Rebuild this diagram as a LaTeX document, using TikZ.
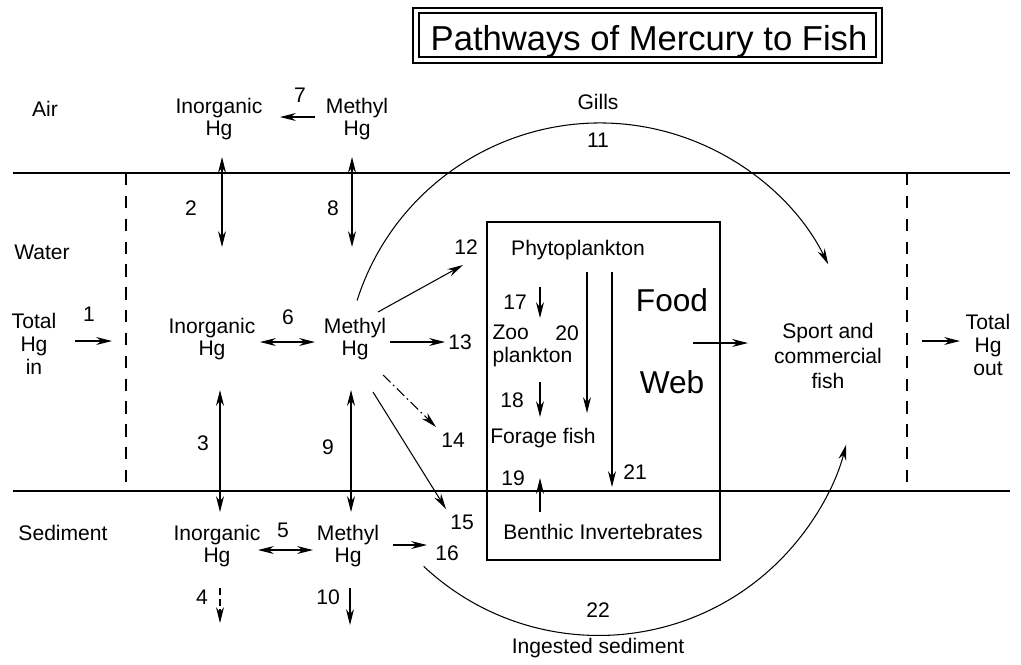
\documentclass[tikz,border=0pt]{standalone}
\usepackage{fontspec}
\setmainfont{Liberation Sans}
\usetikzlibrary{arrows.meta}

\begin{document}
\begin{tikzpicture}[x=0.02cm, y=0.02cm, line width=0.6pt,
  arr/.style={-{Stealth[length=9pt,width=4.5pt]}},
  dbl/.style={{Stealth[length=9pt,width=4.5pt]}-{Stealth[length=9pt,width=4.5pt]}},
  big/.style={font=\fontsize{18}{20}\selectfont},
  dashline/.style={dash pattern=on 7pt off 6pt}]
\tikzstyle{every node}+=[inner sep=0pt, font=\fontsize{12}{13}\selectfont, align=center]
\useasboundingbox (0,0) rectangle (1021,-664);
\draw [black] (413,-8) rectangle (882,-63);
\draw [black] (419,-13) rectangle (876,-57);
\node (title) at (649,-50) [anchor=base, font=\fontsize{19.7}{24}\selectfont] {Pathways of Mercury to Fish};
\draw [black] (13,-173) -- (1010,-173);
\draw [black] (13,-491) -- (1010,-491);
\draw [black, dashline] (126,-173) -- (126,-491);
\draw [black, dashline] (907,-173) -- (907,-491);
\node (air) at (45,-109) {Air};
\node (water) at (42,-252) {Water};
\node (sed) at (63,-533) {Sediment};
\node (hgin) at (34,-344) {Total\\Hg\\in};
\node (ainorg) at (219,-119) {Inorganic\\Hg};
\node (ameth) at (357,-119) {Methyl\\Hg};
\node (winorg) at (212,-339) {Inorganic\\Hg};
\node (wmeth) at (355,-339) {Methyl\\Hg};
\node (sinorg) at (217,-546) {Inorganic\\Hg};
\node (smeth) at (348,-546) {Methyl\\Hg};
\node (phyto) at (578,-250) {Phytoplankton};
\node (zoo) at (492,-346) [anchor=west, align=left] {Zoo\\plankton};
\node (forage) at (543,-438) {Forage fish};
\node (benthic) at (603,-532) {Benthic Invertebrates};
\node (food) at (672,-300) [big] {Food};
\node (web) at (672,-382) [big] {Web};
\node (fish) at (828,-356) [font=\fontsize{12}{14}\selectfont] {Sport and\\commercial\\fish};
\node (hgout) at (988,-345) {Total\\Hg\\out};
\node (gills) at (598,-102) {Gills};
\node (ingest) at (598,-648) {Ingested sediment};
\draw [black] (487,-222) rectangle (720,-560);
\node (n1) at (89,-314) {1};
\node (n2) at (191,-208) {2};
\node (n3) at (203,-443) {3};
\node (n4) at (202,-597) {4};
\node (n5) at (283,-530) {5};
\node (n6) at (288,-317) {6};
\node (n7) at (300,-95) {7};
\node (n8) at (333,-208) {8};
\node (n9) at (328,-447) {9};
\node (n10) at (328,-597) {10};
\node (n11) at (598,-140) {11};
\node (n12) at (466,-247) {12};
\node (n13) at (460,-342) {13};
\node (n14) at (453,-440) {14};
\node (n15) at (462,-522) {15};
\node (n16) at (447,-553) {16};
\node (n17) at (515,-302) {17};
\node (n18) at (512,-400) {18};
\node (n19) at (513,-478) {19};
\node (n20) at (567,-333) {20};
\node (n21) at (635,-472) {21};
\node (n22) at (598,-610) {22};
\coordinate (cen) at (600,-378);
\draw [arr] (75,-341) -- (112,-341);
\draw [arr] (315,-117) -- (280,-117);
\draw [dbl] (222,-157) -- (222,-247);
\draw [dbl] (352,-157) -- (352,-247);
\draw [dbl] (260,-342) -- (315,-342);
\draw [dbl] (220,-390) -- (220,-512);
\draw [dbl] (351,-390) -- (351,-512);
\draw [dbl] (258,-550) -- (313,-550);
\draw [arr, dash pattern=on 4pt off 2pt] (220,-588) -- (220,-623);
\draw [arr] (350,-588) -- (350,-625);
\draw [arr] (378,-312) -- (463,-265);
\draw [arr] (390,-342) -- (445,-342);
\draw [arr, dash pattern=on 6pt off 2pt on 1pt off 2pt] (383,-375) -- (436,-427);
\draw [arr] (373,-392) -- (446,-509);
\draw [arr] (393,-545) -- (427,-545);
\draw [arr] (cen) ++(162.3:255) arc[start angle=162.3, end angle=26.5, radius=255];
\draw [arr] (cen) ++(226.9:258) arc[start angle=226.9, end angle=345.3, radius=256];
\draw [arr] (540,-287) -- (540,-318);
\draw [arr] (540,-382) -- (540,-417);
\draw [arr] (587,-272) -- (587,-413);
\draw [arr] (612,-272) -- (612,-487);
\draw [arr] (540,-512) -- (540,-478);
\draw [arr] (693,-343) -- (748,-343);
\draw [arr] (922,-341) -- (960,-341);
\end{tikzpicture}
\end{document}
